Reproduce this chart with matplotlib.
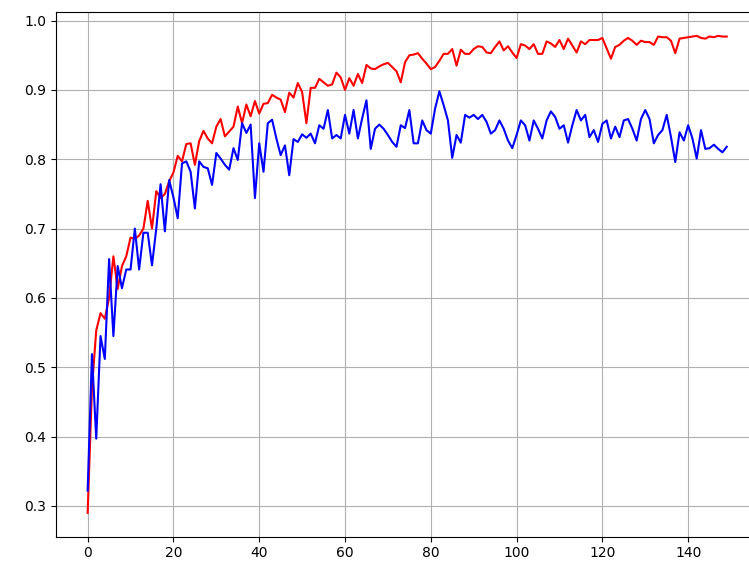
import matplotlib.pyplot as plt
import numpy as np

# точность на обучении и на валидации по эпохам
train_acc = [
    0.290, 0.470, 0.553, 0.578, 0.570, 0.600, 0.660, 0.613, 0.646, 0.660,
    0.687, 0.685, 0.690, 0.700, 0.740, 0.700, 0.754, 0.744, 0.750, 0.768,
    0.781, 0.805, 0.797, 0.822, 0.823, 0.792, 0.826, 0.841, 0.830, 0.823,
    0.847, 0.858, 0.833, 0.840, 0.847, 0.876, 0.852, 0.879, 0.862, 0.884,
    0.866, 0.880, 0.881, 0.893, 0.889, 0.886, 0.868, 0.896, 0.889, 0.910,
    0.897, 0.852, 0.903, 0.903, 0.916, 0.911, 0.906, 0.908, 0.925, 0.918,
    0.900, 0.917, 0.906, 0.923, 0.910, 0.936, 0.931, 0.930, 0.934, 0.937,
    0.939, 0.933, 0.927, 0.911, 0.940, 0.950, 0.951, 0.953, 0.945, 0.938,
    0.930, 0.933, 0.942, 0.952, 0.952, 0.959, 0.935, 0.958, 0.952, 0.952,
    0.959, 0.963, 0.962, 0.954, 0.953, 0.962, 0.970, 0.957, 0.963, 0.954,
    0.946, 0.966, 0.964, 0.959, 0.966, 0.952, 0.952, 0.970, 0.967, 0.962,
    0.972, 0.959, 0.974, 0.964, 0.954, 0.970, 0.966, 0.972, 0.972, 0.972,
    0.975, 0.960, 0.945, 0.962, 0.965, 0.971, 0.975, 0.971, 0.965, 0.971,
    0.969, 0.969, 0.965, 0.977, 0.976, 0.976, 0.971, 0.953, 0.974, 0.975,
    0.976, 0.977, 0.978, 0.975, 0.974, 0.977, 0.976, 0.978, 0.977, 0.977,
]
val_acc = [
    0.322, 0.519, 0.397, 0.545, 0.512, 0.656, 0.545, 0.646, 0.614, 0.641,
    0.641, 0.700, 0.641, 0.694, 0.694, 0.647, 0.700, 0.764, 0.696, 0.770,
    0.745, 0.715, 0.794, 0.797, 0.782, 0.729, 0.797, 0.789, 0.787, 0.763,
    0.809, 0.801, 0.792, 0.785, 0.816, 0.799, 0.852, 0.838, 0.850, 0.744,
    0.823, 0.782, 0.852, 0.857, 0.830, 0.806, 0.820, 0.777, 0.829, 0.825,
    0.836, 0.831, 0.837, 0.823, 0.849, 0.844, 0.871, 0.830, 0.835, 0.830,
    0.864, 0.837, 0.871, 0.830, 0.859, 0.885, 0.815, 0.844, 0.850, 0.844,
    0.835, 0.825, 0.818, 0.849, 0.845, 0.871, 0.823, 0.823, 0.856, 0.842,
    0.837, 0.873, 0.898, 0.878, 0.856, 0.802, 0.835, 0.824, 0.864, 0.860,
    0.864, 0.858, 0.864, 0.854, 0.837, 0.842, 0.856, 0.844, 0.827, 0.816,
    0.835, 0.856, 0.849, 0.827, 0.856, 0.844, 0.830, 0.856, 0.869, 0.861,
    0.844, 0.849, 0.824, 0.849, 0.871, 0.856, 0.864, 0.832, 0.842, 0.825,
    0.851, 0.856, 0.830, 0.847, 0.832, 0.856, 0.858, 0.844, 0.827, 0.858,
    0.871, 0.858, 0.823, 0.835, 0.842, 0.864, 0.832, 0.796, 0.839, 0.827,
    0.849, 0.830, 0.801, 0.842, 0.815, 0.816, 0.821, 0.815, 0.810, 0.818,
]
epochs = np.arange(len(train_acc))

# оси чуть шире холста: правая рамка уходит за край картинки
fig = plt.figure(figsize=(7.49, 5.70), dpi=100)
ax = fig.add_axes([55.7 / 749, 33.3 / 570, 703 / 749, 524.7 / 570])
ax.plot(epochs, train_acc, color='red')
ax.plot(epochs, val_acc, color='blue')
ax.grid(True)
fig.savefig("out.png", dpi=100)
plt.close()
